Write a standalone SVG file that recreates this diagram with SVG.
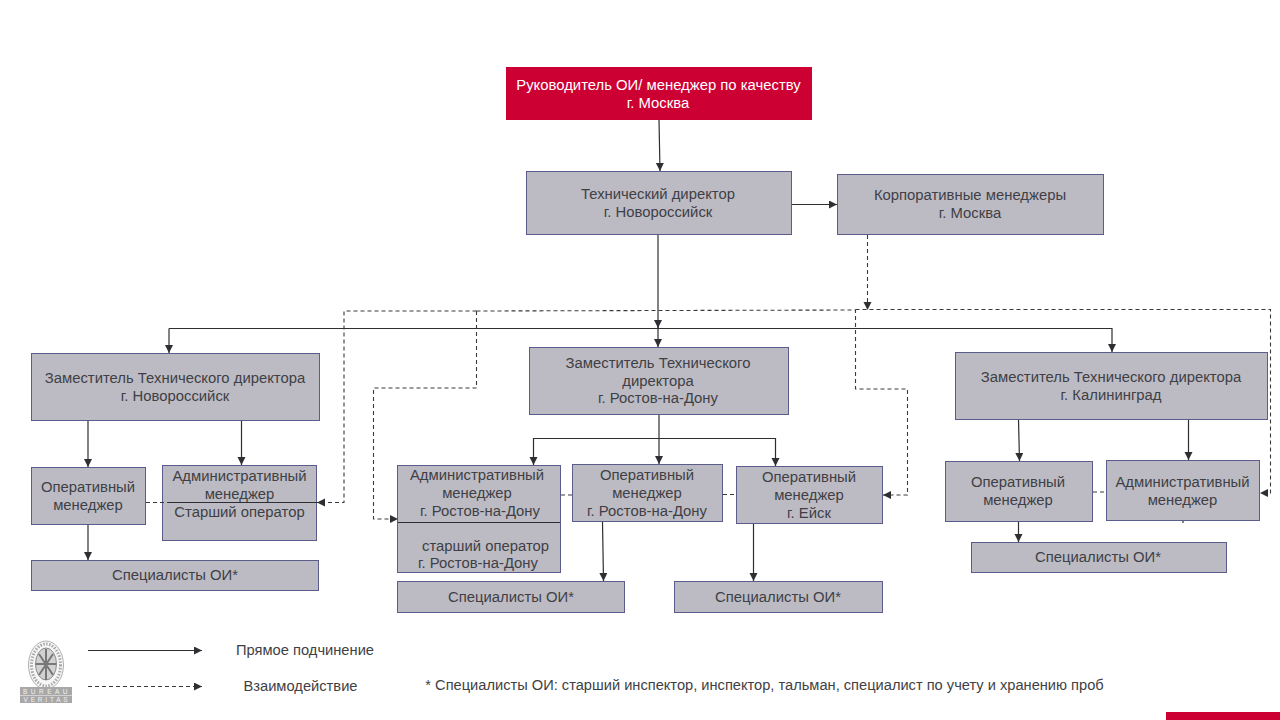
<svg xmlns="http://www.w3.org/2000/svg" width="1280" height="720" viewBox="0 0 1280 720">
<style>
text{font-family:"Liberation Sans",Arial,sans-serif;font-size:14.85px;fill:#3f3f45;text-anchor:middle}
.n{fill:#bcbbc3;stroke:#5b5b8c;stroke-width:1}
.s{fill:none;stroke:#2f2f33;stroke-width:1.2}
.d{fill:none;stroke:#3a3a3e;stroke-width:1.1;stroke-dasharray:4 3}
.w{fill:#fff}
.f{font-size:14.65px}
.lg{font-size:14.7px}
.b{font-size:6.5px;fill:#f2f2f2}
</style>
<defs>
<marker id="a" markerUnits="userSpaceOnUse" markerWidth="9" markerHeight="9" refX="8" refY="4" orient="auto"><path d="M0 0L8 4L0 8Z" fill="#2f2f33"/></marker>
</defs>
<rect width="1280" height="720" fill="#fff"/>
<g id="nodes">
<g id="n-head"><rect x="506" y="67" width="306" height="53" fill="#cc0033"/><text class="w" x="658.500" y="90">Руководитель ОИ/ менеджер по качеству</text><text class="w" x="658" y="108">г. Москва</text></g>
<g id="n-tech"><rect class="n" x="526.500" y="171.500" width="265" height="63"/><text x="658" y="199">Технический директор</text><text x="658" y="217">г. Новороссийск</text></g>
<g id="n-corp"><rect class="n" x="837.500" y="174.500" width="266" height="60"/><text x="970" y="200">Корпоративные менеджеры</text><text x="970" y="218">г. Москва</text></g>
<g id="n-dep1"><rect class="n" x="31.500" y="353.500" width="288" height="67"/><text x="175" y="383">Заместитель Технического директора</text><text x="175" y="401">г. Новороссийск</text></g>
<g id="n-dep2"><rect class="n" x="529.500" y="347.500" width="259" height="67"/><text x="658" y="368">Заместитель Технического</text><text x="658" y="386">директора</text><text x="658" y="403">г. Ростов-на-Дону</text></g>
<g id="n-dep3"><rect class="n" x="955.500" y="352.500" width="312" height="67"/><text x="1111" y="382">Заместитель Технического директора</text><text x="1111" y="400">г. Калининград</text></g>
<g id="n-op1"><rect class="n" x="31.500" y="467.500" width="114" height="57"/><text x="88" y="492">Оперативный</text><text x="88" y="510">менеджер</text></g>
<g id="n-adm1"><rect class="n" x="162.500" y="465.500" width="154" height="75"/><text x="239.500" y="481">Административный</text><text x="239.500" y="499">менеджер</text><text x="239.500" y="517">Старший оператор</text></g>
<g id="n-spec1"><rect class="n" x="31.500" y="560.500" width="287" height="30"/><text x="175" y="580">Специалисты ОИ*</text></g>
<g id="n-adm2"><rect class="n" x="397.500" y="465.500" width="163" height="107"/><text x="477" y="480">Административный</text><text x="477" y="498">менеджер</text><text x="480" y="516">г. Ростов-на-Дону</text><text x="485.500" y="551">старший оператор</text><text x="478" y="568">г. Ростов-на-Дону</text></g>
<g id="n-op2"><rect class="n" x="572.500" y="464.500" width="150" height="57"/><text x="647" y="480">Оперативный</text><text x="647" y="498">менеджер</text><text x="647" y="516">г. Ростов-на-Дону</text></g>
<g id="n-op3"><rect class="n" x="736.500" y="466.500" width="146" height="57"/><text x="809" y="482">Оперативный</text><text x="809" y="500">менеджер</text><text x="809" y="518">г. Ейск</text></g>
<g id="n-spec2"><rect class="n" x="397.500" y="581.500" width="227" height="31"/><text x="511" y="602">Специалисты ОИ*</text></g>
<g id="n-spec3"><rect class="n" x="674.500" y="581.500" width="208" height="31"/><text x="778" y="602">Специалисты ОИ*</text></g>
<g id="n-op4"><rect class="n" x="945.500" y="461.500" width="147" height="60"/><text x="1018" y="487">Оперативный</text><text x="1018" y="505">менеджер</text></g>
<g id="n-adm4"><rect class="n" x="1106.500" y="460.500" width="153" height="60"/><text x="1182.500" y="487">Административный</text><text x="1182.500" y="505">менеджер</text></g>
<g id="n-spec4"><rect class="n" x="971.500" y="542.500" width="255" height="30"/><text x="1098" y="562">Специалисты ОИ*</text></g>
</g>
<g id="connectors">
<path class="s" marker-end="url(#a)" d="M659 120L660 171"/>
<path class="s" marker-end="url(#a)" d="M792 204.500L837 204.500"/>
<path class="s" d="M658 235L658 328"/>
<path class="s" marker-end="url(#a)" d="M658 322L658 328"/>
<path class="s" marker-end="url(#a)" d="M658 328L658 347"/>
<path class="s" marker-end="url(#a)" d="M169 328.500L169 353"/>
<path class="s" marker-end="url(#a)" d="M169 328.500L1112 328.500L1112 352"/>
<path class="s" marker-end="url(#a)" d="M88 421L88 467"/>
<path class="s" marker-end="url(#a)" d="M241.500 421L241.500 465"/>
<path class="s" marker-end="url(#a)" d="M88 525L88 560"/>
<path class="s" marker-end="url(#a)" d="M659 415L659 464"/>
<path class="s" marker-end="url(#a)" d="M659 438.500L533.500 438.500L533.500 465"/>
<path class="s" marker-end="url(#a)" d="M659 438.500L775.500 438.500L775.500 466"/>
<path class="s" marker-end="url(#a)" d="M602.500 522L603.500 581"/>
<path class="s" marker-end="url(#a)" d="M753.500 524L753.500 581"/>
<path class="s" marker-end="url(#a)" d="M1018.500 420L1019.500 461"/>
<path class="s" marker-end="url(#a)" d="M1188.500 420L1188.500 460"/>
<path class="s" marker-end="url(#a)" d="M1018.500 522L1018.500 542"/>
<path class="s" d="M168 502.500L317 502.500"/>
<path class="s" d="M398 522.500L560 522.500"/>
<path class="s" d="M1183 521L1183 523"/>
<path class="d" d="M146 502.500L168 502.500"/>
<path class="d" marker-end="url(#a)" d="M867.500 235L867.500 310"/>
<path class="d" marker-end="url(#a)" d="M476.500 311L344 311L344 502.500L317 502.500"/>
<path class="d" marker-end="url(#a)" d="M476.500 311L476.500 388L373.500 388L373.500 519L398 519"/>
<path class="d" marker-end="url(#a)" d="M476.500 311L855.500 310L855.500 389L907.500 389L907.500 495L883 495"/>
<path class="d" marker-end="url(#a)" d="M855.500 309.500L1270.500 309.500L1270.500 493L1260 493"/>
<path class="d" d="M561 495L572 495"/>
<path class="d" d="M723 494.500L736 494.500"/>
<path class="d" d="M1093 492L1106 492"/>
</g>
<g id="legend">
<path class="s" marker-end="url(#a)" d="M88 650.500L202 650.500"/>
<path class="d" marker-end="url(#a)" d="M88 686.500L202 686.500"/>
<text class="lg" x="305" y="655">Прямое подчинение</text>
<text class="lg" x="300.500" y="691">Взаимодействие</text>
<text class="f" x="764.500" y="690">* Специалисты ОИ: старший инспектор, инспектор, тальман, специалист по учету и хранению проб</text>
</g>
<g id="logo">
<ellipse cx="46" cy="665" rx="17.500" ry="24" fill="#f6f6f6" stroke="#b0b0b0" stroke-width="1"/>
<ellipse cx="46" cy="665" rx="14.500" ry="21" fill="none" stroke="#a8a8a8" stroke-width="3" stroke-dasharray="1.500 1.500"/>
<ellipse cx="46" cy="664" rx="10.500" ry="16" fill="#d2d2d2" stroke="#8a8a8a" stroke-width="1"/>
<path d="M36 664H56M46 649V680M39 654L53 675M53 654L39 675" fill="none" stroke="#777" stroke-width="2"/>
<rect x="20" y="687" width="52" height="8" fill="#a8a8a8"/>
<rect x="20" y="695.500" width="52" height="7.500" fill="#a8a8a8"/>
<text class="b" x="47" y="693.500" style="letter-spacing:3.500px">BUREAU</text>
<text class="b" x="47" y="701.500" style="letter-spacing:2.800px">VERITAS</text>
</g>
<rect id="corner-bar" x="1166" y="712" width="114" height="8" fill="#cc0033"/>
</svg>
